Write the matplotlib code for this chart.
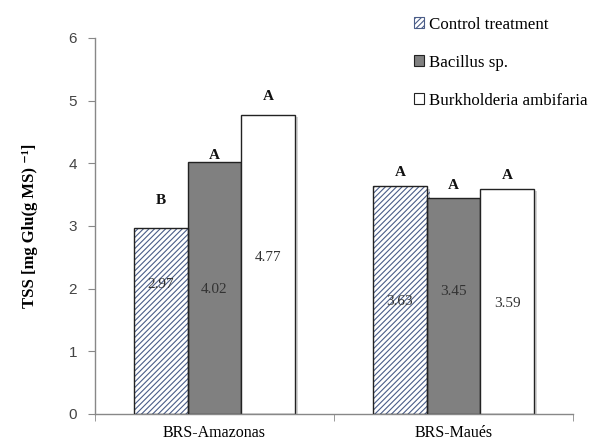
import numpy as np
import matplotlib.pyplot as plt
import matplotlib.patheffects as pe
from matplotlib.patches import Patch

cultivars = ['BRS-Amazonas', 'BRS-Maués']
treatments = ['Control treatment', 'Bacillus sp.', 'Burkholderia ambifaria']
control = [2.97, 3.63]
bacillus = [4.02, 3.45]
burkh = [4.77, 3.59]
letters_control = ['B', 'A']
letters_bacillus = ['A', 'A']
letters_burkh = ['A', 'A']

plt.rcParams['hatch.linewidth'] = 0.8
serif = 'Liberation Serif'
sans = 'Liberation Sans'

fig = plt.figure(figsize=(5.91, 4.43), dpi=100)
ax = fig.add_axes([0.1607, 0.0655, 0.8088, 0.8488])

x = np.arange(len(cultivars))
w = 0.224
shadow = [pe.SimplePatchShadow(offset=(2.5, -1.5), alpha=0.25, shadow_rgbFace='#555555'), pe.Normal()]

# control: hatched bar, then black outline on top
b1 = ax.bar(x - w, control, w, color='white', edgecolor='#4a5d88', hatch='//////', linewidth=0,
            path_effects=shadow, zorder=2)
ax.bar(x - w, control, w, fill=False, edgecolor='#222222', linewidth=1.0, zorder=3)
b2 = ax.bar(x, bacillus, w, color='#808080', edgecolor='#222222', linewidth=1.0,
            path_effects=shadow, zorder=2)
b3 = ax.bar(x + w, burkh, w, color='white', edgecolor='#222222', linewidth=1.0,
            path_effects=shadow, zorder=2)

# value labels inside the bars
val_y = [[2.06, 1.79], [1.98, 1.95], [2.5, 1.77]]
for off, vals, ys in zip([-w, 0, w], [control, bacillus, burkh], val_y):
    for i in range(len(cultivars)):
        ax.text(x[i] + off, ys[i], '%.2f' % vals[i], ha='center', va='center',
                fontsize=11, family=serif, color='#333333', zorder=4)

# significance letters
let_y = [[3.41, 3.85], [4.12, 3.65], [5.06, 3.81]]
for off, lets, ys in zip([-w, 0, w], [letters_control, letters_bacillus, letters_burkh], let_y):
    for i in range(len(cultivars)):
        ax.text(x[i] + off, ys[i], lets[i], ha='center', va='center',
                fontsize=11, family=serif, fontweight='bold', color='#111111', zorder=4)

ax.set_xlim(-0.5, 1.5)
ax.set_ylim(0, 6)
ax.set_yticks(range(7))
ax.set_xticks(x)
ax.set_xticklabels(cultivars, family=serif, fontsize=11.5)
ax.set_xticks([-0.5, 0.5, 1.5], minor=True)
ax.tick_params(axis='x', which='major', length=0, pad=8)
ax.tick_params(axis='x', which='minor', length=5, color='#888888', direction='out')
ax.tick_params(axis='y', length=5, color='#888888', labelsize=11, labelcolor='#444444', pad=8)
for lab in ax.get_yticklabels():
    lab.set_family(sans)

for s in ['top', 'right']:
    ax.spines[s].set_visible(False)
for s in ['left', 'bottom']:
    ax.spines[s].set_color('#888888')
    ax.spines[s].set_linewidth(1.0)

ax.set_ylabel('TSS [mg Glu(g MS) ⁻¹]', family=[serif, 'DejaVu Serif'], fontsize=12,
              fontweight='bold', labelpad=22)

handles = [Patch(facecolor='white', edgecolor='#4a5d88', hatch='//////', linewidth=0.8),
           Patch(facecolor='#808080', edgecolor='#222222', linewidth=0.8),
           Patch(facecolor='white', edgecolor='#222222', linewidth=0.8)]
leg = fig.legend(handles, treatments, loc='upper left', bbox_to_anchor=(0.675, 0.997),
                 frameon=False, prop={'family': serif, 'size': 12.2}, handlelength=0.6,
                 handleheight=0.6, handletextpad=0.3, labelspacing=1.3)

fig.savefig('out.png', dpi=100)
